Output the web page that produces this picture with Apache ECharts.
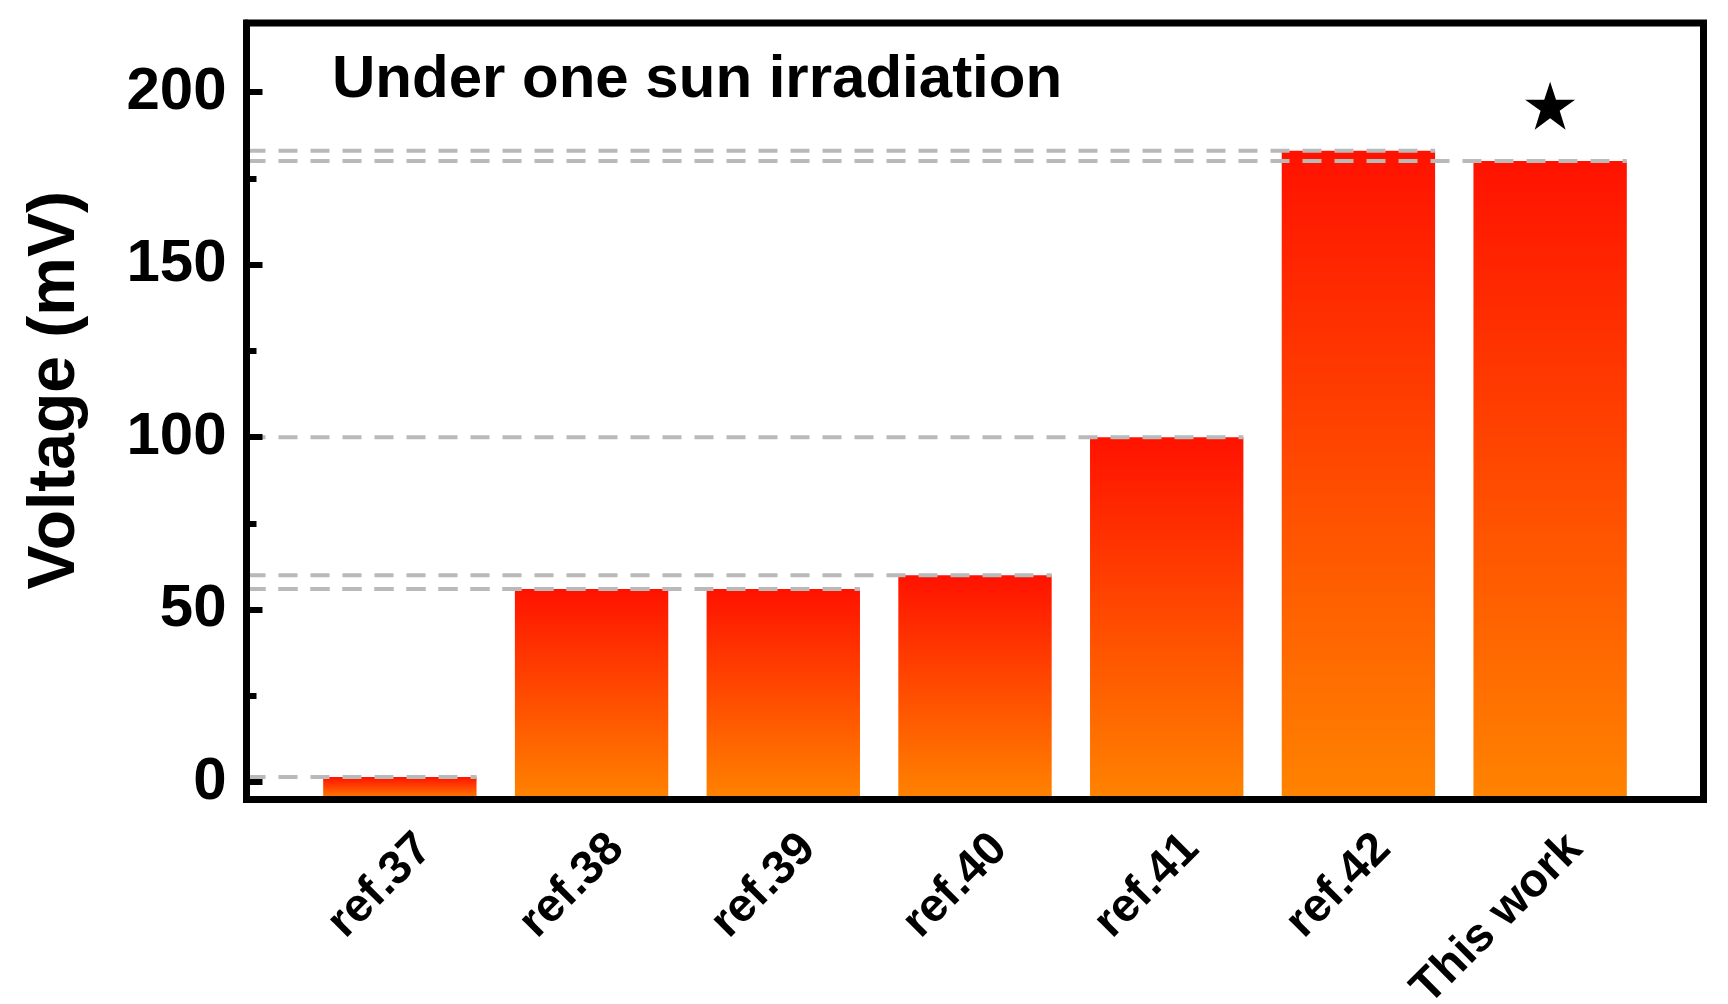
<!DOCTYPE html>
<html>
<head>
<meta charset="utf-8">
<script src="https://cdn.jsdelivr.net/npm/echarts@6/dist/echarts.min.js"></script>
<style>
  html, body { margin: 0; padding: 0; background: #fff; }
  #chart { width: 1728px; height: 1004px; }
</style>
</head>
<body>
<div id="chart"></div>
<script>
// ---- data ----
const categories = ['ref.37', 'ref.38', 'ref.39', 'ref.40', 'ref.41', 'ref.42', 'This work'];
const voltages = [1.5, 56, 56, 60, 100, 183, 180];
const yTickValues = [0, 50, 100, 150, 200];
const yMinorTickValues = [25, 75, 125, 175];
const starIndex = 6;
const starValue = 196;
const titleText = 'Under one sun irradiation';
const yAxisTitle = 'Voltage (mV)';

// ---- layout / style ----
const Y_MIN = -5, Y_MAX = 220;
const X_MIN = -0.8, X_MAX = categories.length - 1 + 0.8;
const BAR_WIDTH = 0.8;
const LABEL_SHIFT = 0.13;
const FONT = '"Liberation Sans", Arial, Helvetica, sans-serif';

const chart = echarts.init(document.getElementById('chart'), null, { renderer: 'canvas' });

const option = {
  backgroundColor: '#ffffff',
  animation: false,
  title: {
    text: titleText,
    left: 332,
    top: 50,
    padding: 0,
    textStyle: { fontFamily: FONT, fontWeight: 'bold', fontSize: 60, color: '#000' }
  },
  grid: {
    left: 246.5, right: 24.5, top: 23, bottom: 204.5,
    containLabel: false,
    outerBoundsMode: 'none',
    show: true, borderColor: '#000', borderWidth: 7, backgroundColor: 'transparent'
  },
  xAxis: {
    type: 'value',
    min: X_MIN, max: X_MAX,
    z: 10,
    axisLine: { show: true, onZero: false, lineStyle: { color: '#000', width: 7 } },
    axisTick: { show: false },
    splitLine: { show: false },
    axisLabel: {
      customValues: categories.map((c, i) => i + LABEL_SHIFT),
      formatter: v => categories[Math.round(v - LABEL_SHIFT)],
      rotate: 45,
      margin: 42,
      fontFamily: FONT, fontWeight: 'bold', fontSize: 47, color: '#000'
    }
  },
  yAxis: [{
    type: 'value',
    min: Y_MIN, max: Y_MAX,
    z: 10,
    name: yAxisTitle,
    nameLocation: 'middle',
    nameRotate: 90,
    nameGap: 158,
    nameTextStyle: { fontFamily: FONT, fontWeight: 'bold', fontSize: 66, color: '#000', padding: [0, 0, 0, 42] },
    axisLine: { show: true, onZero: false, lineStyle: { color: '#000', width: 7 } },
    axisTick: { show: true, inside: true, length: 16, customValues: yTickValues, lineStyle: { color: '#000', width: 6 } },
    splitLine: { show: false },
    axisLabel: {
      customValues: yTickValues,
      margin: 20,
      fontFamily: FONT, fontWeight: 'bold', fontSize: 60, color: '#000'
    }
  }, {
    type: 'value',
    min: Y_MIN, max: Y_MAX,
    position: 'left',
    z: 10,
    axisLine: { show: false, onZero: false },
    axisTick: { show: true, inside: true, length: 10, customValues: yMinorTickValues, lineStyle: { color: '#000', width: 6 } },
    axisLabel: { show: false },
    splitLine: { show: false }
  }],
  series: [{
    type: 'custom',
    xAxisIndex: 0, yAxisIndex: 0,
    data: voltages.map((v, i) => [i, v]),
    renderItem: function (params, api) {
      const i = api.value(0), v = api.value(1);
      const top = api.coord([i, v]);
      const base = api.coord([i, Y_MIN]);
      const left = api.coord([X_MIN, v]);
      const w = api.size([BAR_WIDTH, 0])[0];
      return {
        type: 'group',
        children: [{
          type: 'rect',
          shape: { x: top[0] - w / 2, y: top[1], width: w, height: base[1] - top[1] },
          style: {
            fill: {
              type: 'linear', x: 0, y: 0, x2: 0, y2: 1,
              colorStops: [{ offset: 0, color: '#ff1200' }, { offset: 1, color: '#ff8300' }]
            }
          }
        }, {
          type: 'line',
          z2: 20,
          shape: { x1: left[0], y1: top[1], x2: top[0] + w / 2, y2: top[1] },
          style: { stroke: '#b9b9b9', lineWidth: 4, lineDash: [19, 13] }
        }]
      };
    }
  }, {
    type: 'scatter',
    xAxisIndex: 0, yAxisIndex: 0,
    data: [[starIndex, starValue]],
    symbol: 'path://M50,0 L61.8,35.5 L100,35.5 L69.1,57.4 L80.9,95.1 L50,72 L19.1,95.1 L30.9,57.4 L0,35.5 L38.2,35.5 Z',
    symbolSize: [50, 48],
    itemStyle: { color: '#000', opacity: 1 },
    z: 5
  }]
};
chart.setOption(option);
</script>
</body>
</html>
